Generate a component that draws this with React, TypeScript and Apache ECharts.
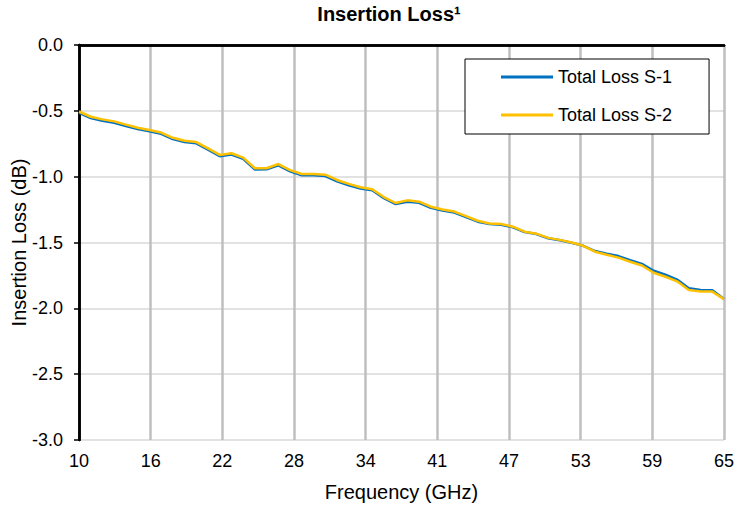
import React, { useEffect, useRef } from "react";
import * as echarts from "echarts";

const frequencies = [
  10, 11, 12, 13, 14, 15, 16, 17, 18, 19, 20, 21, 22, 23, 24, 25, 26, 27, 28, 29,
  30, 31, 32, 33, 34, 35, 36, 37, 38, 39, 40, 41, 42, 43, 44, 45, 46, 47, 48, 49,
  50, 51, 52, 53, 54, 55, 56, 57, 58, 59, 60, 61, 62, 63, 64, 65,
];

const lossS1 = [
  -0.515, -0.555, -0.575, -0.59, -0.615, -0.638, -0.655, -0.675, -0.715, -0.737,
  -0.747, -0.795, -0.845, -0.832, -0.865, -0.946, -0.944, -0.914, -0.96, -0.99,
  -0.99, -0.995, -1.035, -1.065, -1.09, -1.103, -1.163, -1.208, -1.19, -1.198,
  -1.236, -1.258, -1.272, -1.307, -1.342, -1.36, -1.365, -1.385, -1.42, -1.436,
  -1.468, -1.483, -1.502, -1.525, -1.565, -1.585, -1.603, -1.635, -1.662, -1.715,
  -1.745, -1.782, -1.847, -1.86, -1.862, -1.93,
];

const lossS2 = [
  -0.505, -0.545, -0.565, -0.58, -0.605, -0.628, -0.645, -0.665, -0.705, -0.727,
  -0.737, -0.785, -0.835, -0.822, -0.855, -0.936, -0.936, -0.904, -0.95, -0.98,
  -0.98, -0.985, -1.025, -1.055, -1.08, -1.095, -1.155, -1.2, -1.18, -1.19,
  -1.228, -1.25, -1.265, -1.3, -1.335, -1.355, -1.36, -1.38, -1.418, -1.433,
  -1.465, -1.48, -1.5, -1.525, -1.57, -1.593, -1.615, -1.646, -1.675, -1.73,
  -1.76, -1.795, -1.86, -1.873, -1.873, -1.93,
];

const xTickLabels = ["10", "16", "22", "28", "34", "41", "47", "53", "59", "65"];

const seriesNames = ["Total Loss S-1", "Total Loss S-2"];
const seriesColors = ["#0070c0", "#ffc000"];

const FONT = "'Liberation Sans', Arial, sans-serif";

export default function App() {
  const ref = useRef<HTMLDivElement>(null);

  useEffect(() => {
    if (!ref.current) return;
    const chart = echarts.init(ref.current, undefined, { renderer: "svg" });
    const toPairs = (vals: number[]) => frequencies.map((f, i) => [f, vals[i]]);

    chart.setOption({
      animation: false,
      backgroundColor: "#ffffff",
      textStyle: { fontFamily: FONT },
      graphic: [
        {
          type: "text",
          x: 389,
          y: 4,
          style: {
            text: "Insertion Loss¹",
            textAlign: "center",
            font: `bold 20px ${FONT}`,
            fill: "#000",
          },
        },
      ],
      legend: {
        left: 465,
        top: 59,
        orient: "vertical",
        data: seriesNames,
        icon: "rect",
        itemWidth: 52,
        itemHeight: 3,
        itemGap: 20,
        padding: [9, 37, 10, 36],
        borderColor: "#000",
        borderWidth: 1,
        backgroundColor: "#fff",
        textStyle: { fontSize: 18, color: "#000", fontFamily: FONT },
      },
      grid: {
        left: 79,
        right: 10,
        top: 45,
        bottom: 68,
        containLabel: false,
        outerBoundsMode: "none",
      },
      xAxis: [
        {
          type: "value",
          min: 0,
          max: 9,
          interval: 1,
          position: "bottom",
          name: "Frequency (GHz)",
          nameLocation: "middle",
          nameGap: 42,
          nameMoveOverlap: false,
          nameTextStyle: { fontSize: 20, color: "#000", fontFamily: FONT },
          axisLine: { show: true, lineStyle: { color: "#000", width: 2.5 } },
          axisTick: { show: false },
          axisLabel: {
            fontSize: 18,
            color: "#000",
            margin: 12,
            fontFamily: FONT,
            formatter: (v: number) => xTickLabels[Math.round(v)] ?? "",
          },
          splitLine: { show: true, lineStyle: { color: "#bfbfbf", width: 2.5 } },
        },
        {
          type: "value",
          min: 10,
          max: 65,
          show: false,
        },
        {
          type: "value",
          min: 0,
          max: 1,
          position: "top",
          axisLine: { show: true, lineStyle: { color: "#000", width: 2.5 } },
          axisTick: { show: false },
          axisLabel: { show: false },
          splitLine: { show: false },
        },
      ],
      yAxis: [
        {
          type: "value",
          min: -3,
          max: 0,
          interval: 0.5,
          name: "Insertion Loss (dB)",
          nameLocation: "middle",
          nameGap: 50,
          nameMoveOverlap: false,
          nameTextStyle: { fontSize: 20, color: "#000", fontFamily: FONT },
          axisLine: { show: true, lineStyle: { color: "#000", width: 2.5 } },
          axisTick: { show: true, length: 5, lineStyle: { color: "#000", width: 1.5 } },
          axisLabel: {
            fontSize: 18,
            color: "#000",
            margin: 16,
            fontFamily: FONT,
            formatter: (v: number) => v.toFixed(1),
          },
          splitLine: { show: true, lineStyle: { color: "#d9d9d9", width: 1.5 } },
        },
        {
          type: "value",
          min: -3,
          max: 0,
          position: "right",
          axisLine: { show: true, lineStyle: { color: "#000", width: 2.5 } },
          axisTick: { show: false },
          axisLabel: { show: false },
          splitLine: { show: false },
        },
      ],
      series: [
        {
          name: seriesNames[0],
          type: "line",
          xAxisIndex: 1,
          yAxisIndex: 0,
          data: toPairs(lossS1),
          symbol: "none",
          showSymbol: false,
          lineStyle: { color: seriesColors[0], width: 2.5 },
          itemStyle: { color: seriesColors[0] },
          z: 3,
        },
        {
          name: seriesNames[1],
          type: "line",
          xAxisIndex: 1,
          yAxisIndex: 0,
          data: toPairs(lossS2),
          symbol: "none",
          showSymbol: false,
          lineStyle: { color: seriesColors[1], width: 2.5 },
          itemStyle: { color: seriesColors[1] },
          z: 4,
        },
      ],
    });

    return () => chart.dispose();
  }, []);

  return (
    <div
      ref={ref}
      style={{ position: "fixed", left: 0, top: 0, width: 734, height: 508, background: "#fff" }}
    />
  );
}
